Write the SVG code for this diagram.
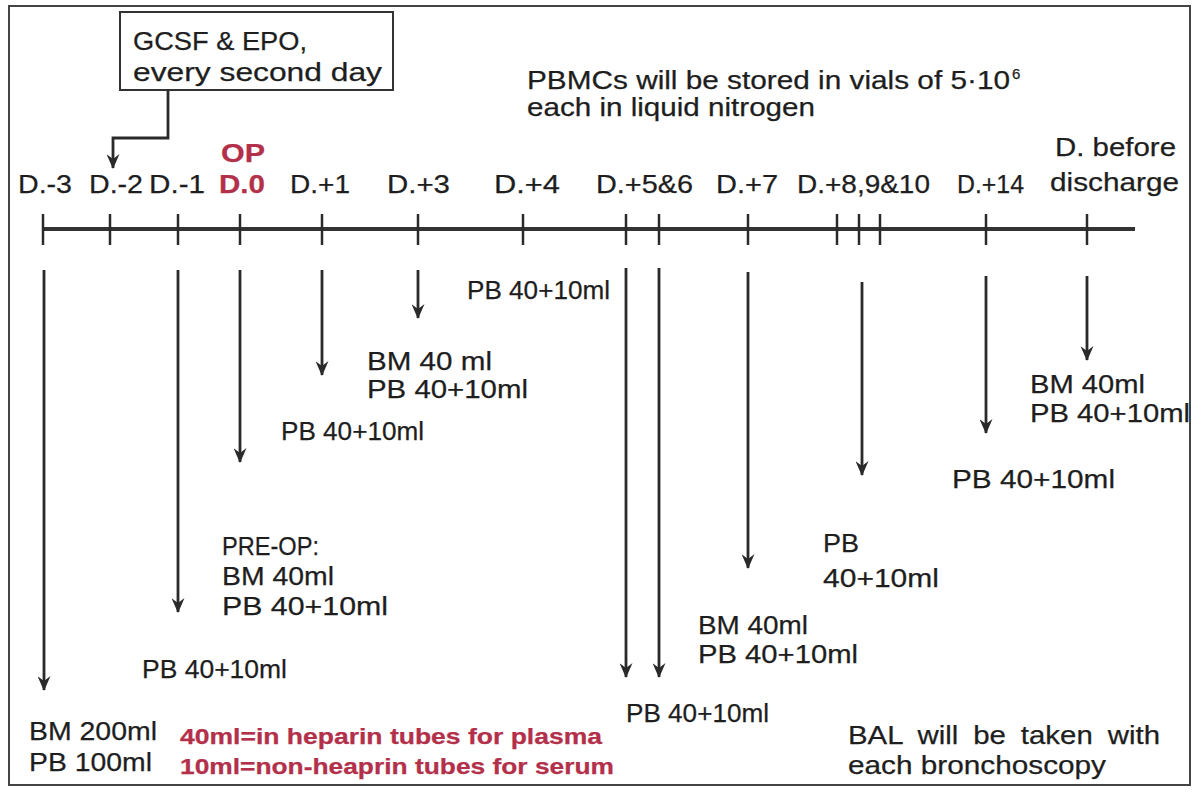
<svg xmlns="http://www.w3.org/2000/svg" width="1200" height="794" viewBox="0 0 1200 794">
<defs>
<marker id="ah" markerWidth="15" markerHeight="13" refX="14" refY="6.5" orient="auto" markerUnits="userSpaceOnUse" viewBox="0 0 15 13">
<path d="M0,0 L15,6.5 L0,13 L5,6.5 Z" fill="#2a2a2a"/>
</marker>
<style>
text{font-family:"Liberation Sans",Arial,sans-serif;font-size:26px;fill:#1e1e1e;stroke:#1e1e1e;stroke-width:0.25}
.red{fill:#b3304a;stroke:#b3304a;font-weight:bold}
.tick{stroke:#2a2a2a;stroke-width:2.5}
.arr{stroke:#2a2a2a;stroke-width:2.8;fill:none;marker-end:url(#ah)}
</style>
</defs>
<rect width="1200" height="794" fill="#fff"/>
<rect x="9" y="6" width="1181" height="779" fill="none" stroke="#444" stroke-width="2"/>

<g id="note-gcsf">
<rect x="120" y="12" width="273" height="78" fill="#fff" stroke="#333" stroke-width="2"/>
<text x="133" y="50" textLength="174" lengthAdjust="spacingAndGlyphs">GCSF &amp; EPO,</text>
<text x="133" y="81" textLength="249" lengthAdjust="spacingAndGlyphs">every second day</text>
</g>

<g id="note-pbmc">
<text x="527" y="89" textLength="483" lengthAdjust="spacingAndGlyphs" style="font-size:25px">PBMCs will be stored in vials of 5·10</text>
<text x="1012" y="79" style="font-size:15px">6</text>
<text x="527" y="116" textLength="288" lengthAdjust="spacingAndGlyphs" style="font-size:25px">each in liquid nitrogen</text>
</g>

<g id="timeline">
<line x1="43" y1="229" x2="1135" y2="229" stroke="#333" stroke-width="4"/>
<g class="tick">
<line x1="43" y1="214" x2="43" y2="245"/>
<line x1="110" y1="214" x2="110" y2="245"/>
<line x1="178" y1="214" x2="178" y2="245"/>
<line x1="240" y1="214" x2="240" y2="245"/>
<line x1="322" y1="214" x2="322" y2="245"/>
<line x1="418" y1="214" x2="418" y2="245"/>
<line x1="523" y1="214" x2="523" y2="245"/>
<line x1="626" y1="214" x2="626" y2="245"/>
<line x1="659" y1="214" x2="659" y2="245"/>
<line x1="748" y1="214" x2="748" y2="245"/>
<line x1="837" y1="214" x2="837" y2="245"/>
<line x1="859" y1="214" x2="859" y2="245"/>
<line x1="880" y1="214" x2="880" y2="245"/>
<line x1="986" y1="214" x2="986" y2="245"/>
<line x1="1087" y1="214" x2="1087" y2="245"/>
</g>
</g>

<g id="day-labels">
<text x="18" y="193" textLength="54" lengthAdjust="spacingAndGlyphs">D.-3</text>
<text x="89" y="193" textLength="54" lengthAdjust="spacingAndGlyphs">D.-2</text>
<text x="149" y="193" textLength="56" lengthAdjust="spacingAndGlyphs">D.-1</text>
<text class="red" x="221" y="162" textLength="44" lengthAdjust="spacingAndGlyphs">OP</text>
<text class="red" x="219" y="193" textLength="46" lengthAdjust="spacingAndGlyphs">D.0</text>
<text x="290" y="193" textLength="60" lengthAdjust="spacingAndGlyphs">D.+1</text>
<text x="387" y="193" textLength="63" lengthAdjust="spacingAndGlyphs">D.+3</text>
<text x="494" y="193" textLength="66" lengthAdjust="spacingAndGlyphs">D.+4</text>
<text x="596" y="193" textLength="97" lengthAdjust="spacingAndGlyphs">D.+5&amp;6</text>
<text x="716" y="193" textLength="62" lengthAdjust="spacingAndGlyphs">D.+7</text>
<text x="797" y="193" textLength="133" lengthAdjust="spacingAndGlyphs">D.+8,9&amp;10</text>
<text x="957" y="193" textLength="67" lengthAdjust="spacingAndGlyphs">D.+14</text>
<text x="1055" y="156" textLength="121" lengthAdjust="spacingAndGlyphs">D. before</text>
<text x="1050" y="191" textLength="129" lengthAdjust="spacingAndGlyphs">discharge</text>
</g>

<g id="connectors">
<path class="arr" d="M168,90 V138 H113 V168"/>
<line class="arr" x1="44" y1="270" x2="44" y2="690"/>
<line class="arr" x1="178" y1="270" x2="178" y2="612"/>
<line class="arr" x1="240" y1="270" x2="240" y2="462"/>
<line class="arr" x1="322" y1="270" x2="322" y2="375"/>
<line class="arr" x1="418" y1="270" x2="418" y2="318"/>
<line class="arr" x1="626" y1="268" x2="626" y2="677"/>
<line class="arr" x1="659" y1="268" x2="659" y2="677"/>
<line class="arr" x1="748" y1="272" x2="748" y2="568"/>
<line class="arr" x1="862" y1="282" x2="862" y2="475"/>
<line class="arr" x1="986" y1="276" x2="986" y2="433"/>
<line class="arr" x1="1087" y1="276" x2="1087" y2="360"/>
</g>

<g id="sample-dm3">
<text x="29" y="740" textLength="128" lengthAdjust="spacingAndGlyphs">BM 200ml</text>
<text x="29" y="771" textLength="123" lengthAdjust="spacingAndGlyphs">PB 100ml</text>
</g>
<g id="sample-dm1">
<text x="142" y="678" textLength="145" lengthAdjust="spacingAndGlyphs">PB 40+10ml</text>
</g>
<g id="sample-d0">
<text x="222" y="555" textLength="97" lengthAdjust="spacingAndGlyphs">PRE-OP:</text>
<text x="222" y="585" textLength="112" lengthAdjust="spacingAndGlyphs">BM 40ml</text>
<text x="222" y="615" textLength="166" lengthAdjust="spacingAndGlyphs">PB 40+10ml</text>
</g>
<g id="sample-d1">
<text x="281" y="440" textLength="143" lengthAdjust="spacingAndGlyphs">PB 40+10ml</text>
</g>
<g id="sample-d3">
<text x="367" y="370" textLength="125" lengthAdjust="spacingAndGlyphs">BM 40 ml</text>
<text x="367" y="398" textLength="161" lengthAdjust="spacingAndGlyphs">PB 40+10ml</text>
</g>
<g id="sample-d4">
<text x="467" y="299" textLength="143" lengthAdjust="spacingAndGlyphs">PB 40+10ml</text>
</g>
<g id="sample-d56">
<text x="626" y="722" textLength="143" lengthAdjust="spacingAndGlyphs">PB 40+10ml</text>
</g>
<g id="sample-d7">
<text x="698" y="634" textLength="110" lengthAdjust="spacingAndGlyphs">BM 40ml</text>
<text x="698" y="663" textLength="160" lengthAdjust="spacingAndGlyphs">PB 40+10ml</text>
</g>
<g id="sample-d8">
<text x="823" y="552" textLength="36" lengthAdjust="spacingAndGlyphs">PB</text>
<text x="823" y="587" textLength="116" lengthAdjust="spacingAndGlyphs">40+10ml</text>
</g>
<g id="sample-d14">
<text x="952" y="488" textLength="163" lengthAdjust="spacingAndGlyphs">PB 40+10ml</text>
</g>
<g id="sample-discharge">
<text x="1030" y="393" textLength="115" lengthAdjust="spacingAndGlyphs">BM 40ml</text>
<text x="1030" y="422" textLength="160" lengthAdjust="spacingAndGlyphs">PB 40+10ml</text>
</g>

<g id="legend-tubes">
<text class="red" x="180" y="744" textLength="422" lengthAdjust="spacingAndGlyphs" style="font-size:22px">40ml=in heparin tubes for plasma</text>
<text class="red" x="180" y="774" textLength="434" lengthAdjust="spacingAndGlyphs" style="font-size:22px">10ml=non-heaprin tubes for serum</text>
</g>
<g id="note-bal">
<text x="848" y="744" textLength="312" lengthAdjust="spacingAndGlyphs" style="word-spacing:6px">BAL will be taken with</text>
<text x="848" y="774" textLength="258" lengthAdjust="spacingAndGlyphs">each bronchoscopy</text>
</g>
</svg>
